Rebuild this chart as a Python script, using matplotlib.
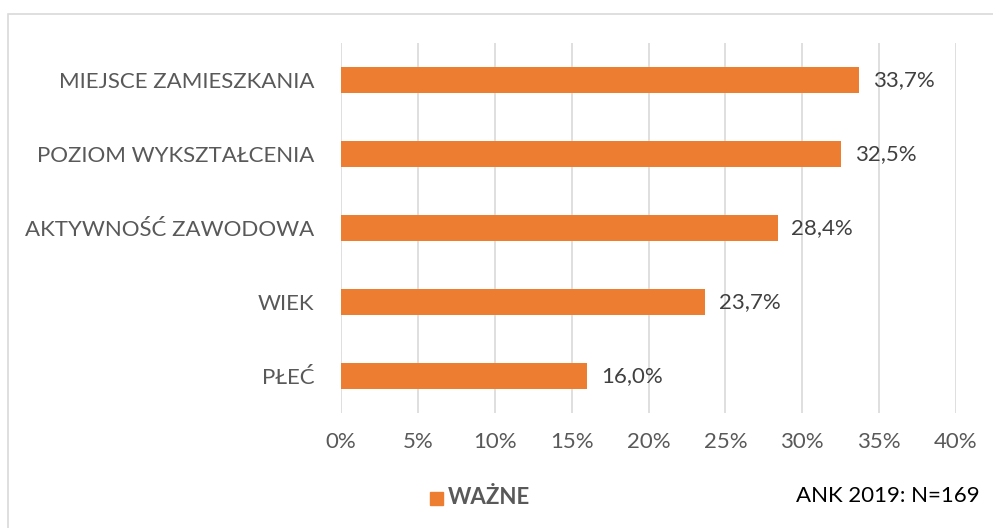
import matplotlib.pyplot as plt
from matplotlib.patches import Rectangle

kategorie = ['PŁEĆ', 'WIEK', 'AKTYWNOŚĆ ZAWODOWA', 'POZIOM WYKSZTAŁCENIA', 'MIEJSCE ZAMIESZKANIA']
wartosci = [16.0, 23.7, 28.4, 32.5, 33.7]
ticki = [0, 5, 10, 15, 20, 25, 30, 35, 40]

plt.rcParams['font.family'] = ['Lato', 'DejaVu Sans']

W, H = 993, 528
fig = plt.figure(figsize=(W / 100, H / 100), dpi=100)

# ramka wykresu
fig.patches.append(Rectangle((8 / W, -0.05), 1.2, 1.05 - 14 / H, transform=fig.transFigure,
                             fill=False, edgecolor='#D9D9D9', linewidth=1.2))

ax = fig.add_axes([341 / W, 1 - 413 / H, (956 - 341) / W, (413 - 43) / H])

y = range(len(kategorie))
ax.barh(y, wartosci, height=0.35, color='#ED7D31', zorder=3)

for i, v in enumerate(wartosci):
    ax.text(v + 0.9, i, f'{v:.1f}%'.replace('.', ','), va='center', ha='left',
            fontsize=16, color='#404040')

ax.set_xlim(0, 40)
ax.set_ylim(-0.5, len(kategorie) - 0.5)
ax.set_xticks(ticki)
ax.set_xticklabels([f'{t}%' for t in ticki], fontsize=16, color='#595959')
ax.set_yticks(list(y))
ax.set_yticklabels(kategorie, fontsize=16, color='#595959')
ax.tick_params(axis='both', length=0)
ax.tick_params(axis='x', pad=14)
ax.tick_params(axis='y', pad=19)
ax.grid(axis='x', color='#D9D9D9', linewidth=1.2, zorder=0)
for s in ax.spines.values():
    s.set_visible(False)

# legenda
fig.patches.append(Rectangle((430 / W, 1 - 505 / H), 13 / W, 13 / H, transform=fig.transFigure,
                             color='#ED7D31'))
fig.text(448 / W, 1 - 498 / H, 'WAŻNE', fontsize=16, fontweight='bold', color='#595959',
         va='center', ha='left')
fig.text(980 / W, 1 - 496 / H, 'ANK 2019: N=169', fontsize=16, color='black',
         va='center', ha='right')

fig.savefig('out.png', dpi=100)
